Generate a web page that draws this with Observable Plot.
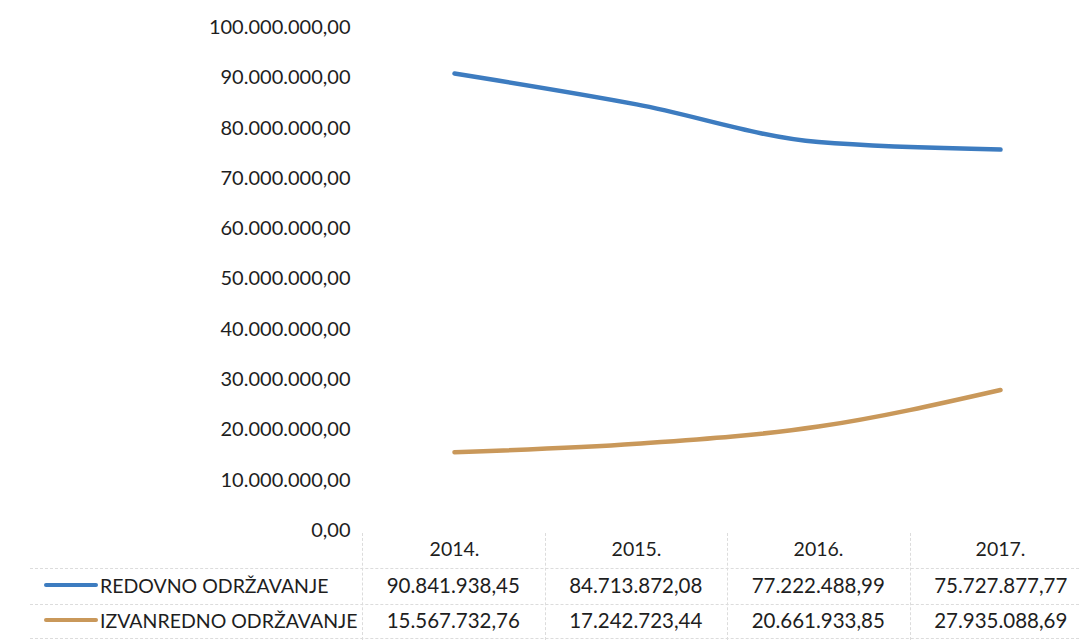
<!DOCTYPE html>
<html><head><meta charset="utf-8">
<script src="https://cdn.jsdelivr.net/npm/d3@7"></script>
<script src="https://cdn.jsdelivr.net/npm/@observablehq/plot@0.6"></script>
<style>
html,body{margin:0;padding:0;background:#fff;}
#wrap{position:relative;width:1079px;height:640px;font-family:Lato,"Open Sans",sans-serif;color:#1e1e1e;}
#chart{position:absolute;left:0;top:0;}
#table{position:absolute;left:0;top:568px;width:1079px;}
.row{position:absolute;left:0;width:1079px;height:35px;}
.cell{position:absolute;top:0;height:35px;line-height:35px;font-size:20.5px;text-align:center;}
.lab{position:absolute;left:100px;top:0;height:35px;line-height:35px;font-size:19.5px;white-space:nowrap;}
.sw{position:absolute;left:44px;width:54px;height:4px;border-radius:2px;top:15px;}
.hl{position:absolute;left:30px;width:1049px;height:0;border-top:1px dashed #dcdcdc;}
.vl{position:absolute;top:533px;width:0;height:107px;border-left:1px dashed #dcdcdc;}
</style></head>
<body><div id="wrap"><div id="chart"></div><div id="table"></div></div>
<script>
const years = ["2014.", "2015.", "2016.", "2017."];
const series = ["REDOVNO ODRŽAVANJE", "IZVANREDNO ODRŽAVANJE"];
const redovno = [90841938.45, 84713872.08, 77222488.99, 75727877.77];
const izvanredno = [15567732.76, 17242723.44, 20661933.85, 27935088.69];
const colors = ["#3d7cc0", "#c9985a"];
const yTicks = [0,10e6,20e6,30e6,40e6,50e6,60e6,70e6,80e6,90e6,100e6];

const fmt = v => v.toLocaleString("de-DE", {minimumFractionDigits: 2, maximumFractionDigits: 2});

const data = [];
years.forEach((y, i) => {
  data.push({year: y, series: series[0], value: redovno[i]});
  data.push({year: y, series: series[1], value: izvanredno[i]});
});

const xRange = [362, 1092];
const chart = Plot.plot({
  width: 1079, height: 570,
  marginTop: 27, marginBottom: 40, marginLeft: 362, marginRight: 0,
  style: {fontFamily: "Lato, 'Open Sans', sans-serif", fontSize: "20px", color: "#1e1e1e", background: "transparent", overflow: "visible"},
  x: {type: "band", domain: years, range: xRange, padding: 0, label: null},
  y: {domain: [0, 100e6], ticks: yTicks, label: null},
  color: {domain: series, range: colors},
  marks: [
    Plot.gridY(yTicks, {stroke: "#d4d4d4", strokeOpacity: 1, strokeDasharray: "3,4", x1: 375, x2: 1079}),
    Plot.axisY(yTicks, {tickSize: 0, tickPadding: 12, tickFormat: fmt, fontSize: "20px", fill: "#1e1e1e"}),
    Plot.axisX({tickSize: 0, tickPadding: 12, fontSize: "19.5px", fill: "#1e1e1e"}),
    Plot.line(data, {x: "year", y: "value", z: "series", stroke: "series", strokeWidth: 4.5, curve: "monotone-x"})
  ]
});
document.getElementById("chart").appendChild(chart);

// data table below chart
const xs = d3.scaleBand().domain(years).range(xRange).padding(0);
const tbl = document.getElementById("table");
[redovno, izvanredno].forEach((vals, r) => {
  const row = document.createElement("div");
  row.className = "row";
  row.style.top = (r * 35) + "px";
  const sw = document.createElement("div");
  sw.className = "sw"; sw.style.background = colors[r];
  row.appendChild(sw);
  const lab = document.createElement("div");
  lab.className = "lab"; lab.textContent = series[r];
  row.appendChild(lab);
  years.forEach((y, i) => {
    const c = document.createElement("div");
    c.className = "cell";
    c.style.left = xs(y) + "px";
    c.style.width = xs.bandwidth() + "px";
    c.textContent = fmt(vals[i]);
    row.appendChild(c);
  });
  tbl.appendChild(row);
});
const wrap = document.getElementById("wrap");
[568, 604, 638].forEach(t => {
  const l = document.createElement("div"); l.className = "hl"; l.style.top = t + "px"; wrap.appendChild(l);
});
years.forEach(y => {
  const l = document.createElement("div"); l.className = "vl"; l.style.left = xs(y) + "px"; wrap.appendChild(l);
});
</script></body></html>
